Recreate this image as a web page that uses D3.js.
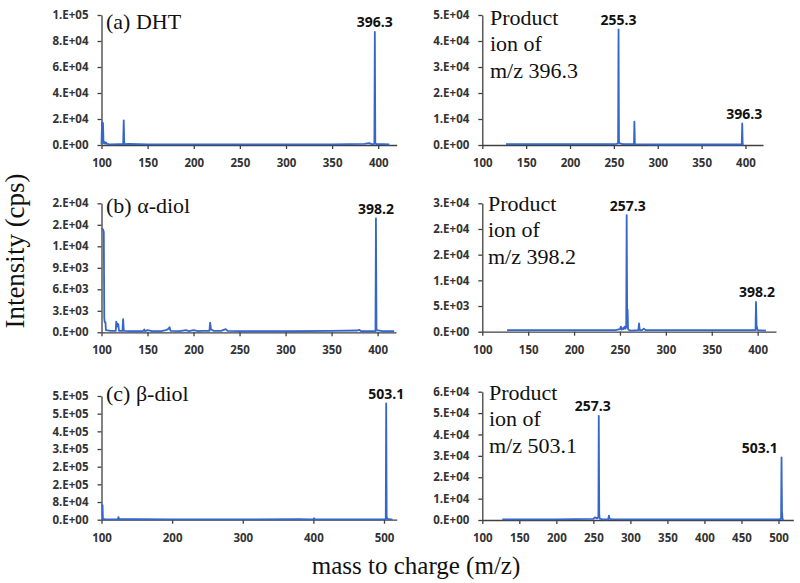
<!DOCTYPE html>
<html>
<head>
<meta charset="utf-8">
<script src="https://cdn.jsdelivr.net/npm/d3@7/dist/d3.min.js"></script>
<style>
  html, body { margin: 0; padding: 0; background: #fff; }
  svg { display: block; }
  .serif { font-family: "Liberation Serif", "Times New Roman", Tinos, "DejaVu Serif", serif; }
  .sans { font-family: "Open Sans", Lato, "Liberation Sans", sans-serif; }
</style>
</head>
<body>
<svg id="chart" width="800" height="583"></svg>
<script>
// ---------------- DATA ----------------
// (a) DHT full scan
const mzA1  = [100, 100.6, 101.6, 102.2, 103, 104, 105, 106, 108, 110, 120, 123.5, 124.1, 124.7, 130, 150, 200, 250, 300, 350, 385, 390, 393, 395.8, 396.3, 396.8, 398, 405, 412];
const intA1 = [500, 17500, 17000, 1500, 2500, 1000, 2000, 800, 600, 500, 600, 600, 19000, 700, 900, 500, 500, 500, 500, 500, 800, 1500, 700, 800, 87000, 1500, 600, 700, 400];
// Product ion of m/z 396.3
const mzA2  = [127, 150, 200, 250, 253, 254.8, 255.3, 255.8, 257, 260, 272.9, 273.4, 273.9, 300, 350, 395.8, 396.3, 396.8, 398];
const intA2 = [300, 300, 300, 300, 400, 600, 44500, 1000, 600, 300, 300, 9000, 300, 200, 200, 200, 8300, 300, 200];
// (b) alpha-diol full scan
const mzB1  = [100, 101.5, 102.5, 103, 103.5, 104.3, 104.8, 110, 115.5, 116, 116.8, 117.5, 118.3, 119, 122.8, 123.5, 124.2, 130, 145, 146.5, 147.5, 150, 155, 165, 170, 172, 174, 175, 185, 192, 195, 200, 205, 210, 217.3, 218, 219, 222, 230, 235, 237, 250, 300, 350, 378, 380, 382, 397.7, 398.2, 398.8, 405, 418];
const intB1 = [14400, 14400, 14000, 2000, 1400, 1400, 300, 200, 200, 1500, 800, 1200, 1100, 200, 200, 1850, 200, 150, 150, 400, 150, 300, 150, 150, 300, 400, 700, 200, 150, 300, 150, 300, 150, 200, 200, 1350, 400, 200, 200, 450, 200, 150, 150, 200, 250, 350, 150, 150, 15900, 300, 150, 150];
// Product ion of m/z 398.2
const mzB2  = [127, 150, 200, 245, 250, 251, 252, 253, 254, 255, 256, 256.8, 257.3, 257.8, 258.3, 258.8, 260, 262, 270, 270.8, 271.5, 274, 276, 278, 300, 350, 397.7, 398.2, 398.8, 400, 409];
const intB2 = [300, 300, 300, 300, 500, 1000, 400, 700, 500, 1000, 600, 800, 22700, 4500, 4300, 500, 300, 200, 300, 1600, 300, 300, 600, 300, 300, 300, 300, 5800, 1200, 300, 200];
// (c) beta-diol full scan
const mzC1  = [100, 101.5, 102, 103, 105, 110, 123, 124, 125, 150, 200, 300, 380, 395, 400, 401, 402, 450, 502.5, 503.1, 503.8, 505, 508, 512];
const intC1 = [60000, 62000, 5000, 3000, 2000, 1500, 2000, 11000, 2000, 2000, 1500, 1500, 2500, 1500, 1500, 6000, 1500, 1500, 2000, 494000, 10000, 4000, 2000, 1000];
// Product ion of m/z 503.1
const mzC2  = [127, 200, 250, 252, 255, 256.8, 257.3, 257.9, 258.5, 262, 270, 271, 272, 275, 300, 400, 500, 503.5, 504.1, 504.7, 505.5, 507];
const intC2 = [300, 300, 500, 1200, 800, 1500, 48700, 3000, 600, 300, 300, 2000, 500, 400, 300, 300, 300, 500, 29300, 4000, 300, 200];

// tick values and labels
const xTicks400 = [100, 150, 200, 250, 300, 350, 400];
const xTicksC1  = [100, 200, 300, 400, 500];
const xTicksC2  = [100, 150, 200, 250, 300, 350, 400, 450, 500];

const yTicksA1  = [0, 20000, 40000, 60000, 80000, 100000];
const yLabelsA1 = ["0.E+00", "2.E+04", "4.E+04", "6.E+04", "8.E+04", "1.E+05"];
const yTicksA2  = [0, 10000, 20000, 30000, 40000, 50000];
const yLabelsA2 = ["0.E+00", "1.E+04", "2.E+04", "3.E+04", "4.E+04", "5.E+04"];
const yTicksB1  = [0, 3000, 6000, 9000, 12000, 15000, 18000];
const yLabelsB1 = ["0.E+00", "3.E+03", "6.E+03", "9.E+03", "1.E+04", "2.E+04", "2.E+04"];
const yTicksB2  = [0, 5000, 10000, 15000, 20000, 25000];
const yLabelsB2 = ["0.E+00", "5.E+03", "1.E+04", "2.E+04", "2.E+04", "3.E+04"];
const yTicksC1  = [0, 75000, 150000, 225000, 300000, 375000, 450000, 525000];
const yLabelsC1 = ["0.E+00", "8.E+04", "2.E+05", "2.E+05", "3.E+05", "4.E+05", "5.E+05", "5.E+05"];
const yTicksC2  = [0, 10000, 20000, 30000, 40000, 50000, 60000];
const yLabelsC2 = ["0.E+00", "1.E+04", "2.E+04", "3.E+04", "4.E+04", "5.E+04", "6.E+04"];

// panel titles and peak annotations
const titleA1 = ["(a) DHT"];
const titleA2 = ["Product", "ion of", "m/z 396.3"];
const titleB1 = ["(b) \u03B1-diol"];
const titleB2 = ["Product", "ion of", "m/z 398.2"];
const titleC1 = ["(c) \u03B2-diol"];
const titleC2 = ["Product", "ion of", "m/z 503.1"];

const peaksA1 = [{ text: "396.3", mz: 396.3, v: 87000 }];
const peaksA2 = [{ text: "255.3", mz: 255.3, v: 44500 }, { text: "396.3", mz: 396.3, v: 8300 }];
const peaksB1 = [{ text: "398.2", mz: 398.2, v: 15900 }];
const peaksB2 = [{ text: "257.3", mz: 257.3, v: 22700 }, { text: "398.2", mz: 398.2, v: 5800 }];
const peaksC1 = [{ text: "503.1", mz: 503.1, v: 494000 }];
const peaksC2 = [{ text: "257.3", mz: 257.3, v: 48700 }, { text: "503.1", mz: 503.1, v: 29300 }];

// ---------------- LAYOUT ----------------
const panels = [
  { mz: mzA1, val: intA1, xDom: [100, 420], yMax: 100000, xTicks: xTicks400, yTicks: yTicksA1, yLabels: yLabelsA1,
    x0: 101.5, x1: 396.7, y0: 145, y1: 15, title: titleA1, tx: 106, ty: 29, peaks: peaksA1, peakDx: [0] },
  { mz: mzA2, val: intA2, xDom: [100, 420], yMax: 50000, xTicks: xTicks400, yTicks: yTicksA2, yLabels: yLabelsA2,
    x0: 482.3, x1: 763, y0: 145, y1: 15, title: titleA2, tx: 490, ty: 25, peaks: peaksA2, peakDx: [0, 2] },
  { mz: mzB1, val: intB1, xDom: [100, 420], yMax: 18000, xTicks: xTicks400, yTicks: yTicksB1, yLabels: yLabelsB1,
    x0: 101.5, x1: 396, y0: 332.3, y1: 203.3, title: titleB1, tx: 106, ty: 213, peaks: peaksB1, peakDx: [0] },
  { mz: mzB2, val: intB2, xDom: [100, 420], yMax: 25000, xTicks: xTicks400, yTicks: yTicksB2, yLabels: yLabelsB2,
    x0: 482.3, x1: 776, y0: 331.7, y1: 203.3, title: titleB2, tx: 488, ty: 211, peaks: peaksB2, peakDx: [1, 1] },
  { mz: mzC1, val: intC1, xDom: [100, 518], yMax: 525000, xTicks: xTicksC1, yTicks: yTicksC1, yLabels: yLabelsC1,
    x0: 101.5, x1: 396.7, y0: 519.7, y1: 396, title: titleC1, tx: 106, ty: 401, peaks: peaksC1, peakDx: [0] },
  { mz: mzC2, val: intC2, xDom: [100, 520], yMax: 60000, xTicks: xTicksC2, yTicks: yTicksC2, yLabels: yLabelsC2,
    x0: 482.3, x1: 793.3, y0: 520, y1: 391.7, title: titleC2, tx: 489, ty: 400, peaks: peaksC2, peakDx: [-6, -21] }
];

const LINE = "#3566c9";
const AXIS = "#404040";

const svg = d3.select("#chart");
svg.append("rect").attr("width", 800).attr("height", 583).attr("fill", "#fff");

panels.forEach(p => {
  const x = d3.scaleLinear().domain(p.xDom).range([p.x0, p.x1]);
  const y = d3.scaleLinear().domain([0, p.yMax]).range([p.y0, p.y1]);
  const g = svg.append("g");

  // x axis
  const xa = g.append("g").attr("transform", `translate(0,${p.y0})`)
    .call(d3.axisBottom(x).tickValues(p.xTicks).tickSize(4).tickSizeOuter(0).tickPadding(10).tickFormat(d3.format("d")));
  // y axis
  const ya = g.append("g").attr("transform", `translate(${p.x0},0)`)
    .call(d3.axisLeft(y).tickValues(p.yTicks).tickSize(4).tickSizeOuter(0).tickPadding(9)
      .tickFormat((d, i) => p.yLabels[i]));
  [xa, ya].forEach(a => {
    a.attr("font-family", null).attr("font-size", null);
    a.select(".domain").attr("stroke", AXIS).attr("stroke-width", 1.3);
    a.selectAll(".tick line").attr("stroke", AXIS).attr("stroke-width", 1.3);
    a.selectAll(".tick text").attr("class", "sans").attr("fill", "#333")
      .style("font-size", "11.5px").style("font-weight", "700");
  });

  // spectrum
  const pts = p.mz.map((m, i) => [m, p.val[i]]);
  g.append("path").datum(pts)
    .attr("fill", "none").attr("stroke", LINE).attr("stroke-width", 1.8).attr("stroke-linejoin", "round")
    .attr("d", d3.line().x(d => x(d[0])).y(d => y(d[1])));

  // title lines
  const t = g.append("text").attr("class", "serif").attr("x", p.tx).attr("y", p.ty)
    .style("font-size", "22px").attr("fill", "#111");
  p.title.forEach((line, i) => {
    t.append("tspan").attr("x", p.tx).attr("dy", i === 0 ? 0 : 26.3).text(line);
  });

  // peak labels
  p.peaks.forEach((pk, i) => {
    g.append("text").attr("class", "sans").attr("x", x(pk.mz) + p.peakDx[i]).attr("y", y(pk.v) - 4.5)
      .attr("text-anchor", "middle")
      .style("font-size", "14px").style("font-weight", "700")
      .attr("fill", "#111").text(pk.text);
  });
});

// axis titles
svg.append("text").attr("class", "serif")
  .attr("transform", "translate(24,251) rotate(-90)")
  .attr("text-anchor", "middle")
  .style("font-size", "27px").attr("fill", "#111")
  .text("Intensity (cps)");
svg.append("text").attr("class", "serif")
  .attr("x", 416).attr("y", 574)
  .attr("text-anchor", "middle")
  .style("font-size", "25px").attr("fill", "#111")
  .text("mass to charge (m/z)");
</script>
</body>
</html>
